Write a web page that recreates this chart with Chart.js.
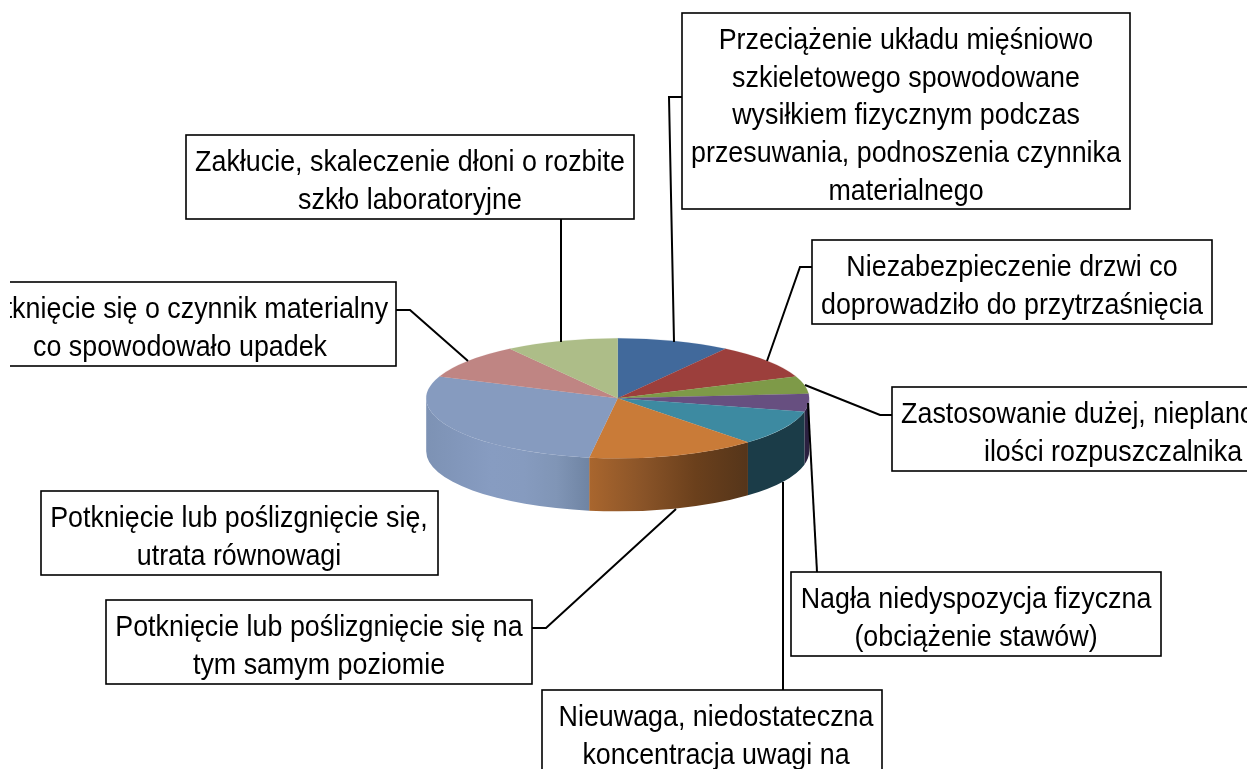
<!DOCTYPE html>
<html lang="pl"><head><meta charset="utf-8">
<style>html,body{margin:0;padding:0;background:#fff;overflow:hidden}canvas{display:block}</style>
<script src="https://cdn.jsdelivr.net/npm/chart.js@4/dist/chart.umd.min.js"></script>
</head><body><canvas id="c" width="1251" height="769"></canvas>
<script>
const categories = [
  "Przeciążenie układu mięśniowo szkieletowego spowodowane wysiłkiem fizycznym podczas przesuwania, podnoszenia czynnika materialnego",
  "Niezabezpieczenie drzwi co doprowadziło do przytrzaśnięcia",
  "Zastosowanie dużej, nieplanowanej ilości rozpuszczalnika",
  "Nagła niedyspozycja fizyczna (obciążenie stawów)",
  "Nieuwaga, niedostateczna koncentracja uwagi na",
  "Potknięcie lub poślizgnięcie się na tym samym poziomie",
  "Potknięcie lub poślizgnięcie się, utrata równowagi",
  "Potknięcie się o czynnik materialny co spowodowało upadek",
  "Zakłucie, skaleczenie dłoni o rozbite szkło laboratoryjne"
];
const values = [2, 2, 1, 1, 2, 3, 6, 2, 2];
const topColors = ["#41699b","#9c3f3c","#7e9a48","#674f80","#3d8aa1","#c97b38","#869bbf","#bf8583","#adbd88"];
const wallStops = [
  ["#41699b"],["#9c3f3c"],["#7e9a48"],
  ["#2b2040"],["#1b3c48"],
  ["#a9662e","#8a5428","#6b401c","#55351a"],
  ["#7d92b4","#8297bb","#879cc1","#869bbf","#8095b6","#6f84a3"],
  ["#bf8583"],["#adbd88"]
];
const labelLines = [
  ["Przeciążenie układu mięśniowo","szkieletowego spowodowane","wysiłkiem fizycznym podczas","przesuwania, podnoszenia czynnika","materialnego"],
  ["Niezabezpieczenie drzwi co","doprowadziło do przytrzaśnięcia"],
  ["Zastosowanie dużej, nieplanowanej","ilości rozpuszczalnika"],
  ["Nagła niedyspozycja fizyczna","(obciążenie stawów)"],
  ["Nieuwaga, niedostateczna","koncentracja uwagi na"],
  ["Potknięcie lub poślizgnięcie się na","tym samym poziomie"],
  ["Potknięcie lub poślizgnięcie się,","utrata równowagi"],
  ["Potknięcie się o czynnik materialny","co spowodowało upadek"],
  ["Zakłucie, skaleczenie dłoni o rozbite","szkło laboratoryjne"]
];
// layout only: label boxes [x, y, w, h, textCentreX]
const boxes = [
  [682,13,448,196,906],[812,240,400,84,1012],[892,387,420,84,1113],
  [791,572,370,84,976],[542,690,340,120,716],[106,600,426,84,319],
  [41,491,397,84,239],[-70,282,466,84,180],[186,135,448,84,410]
];
const leaders = [
  [[682,97],[669,97],[674,342]],[[812,267],[800,267],[767,361]],[[892,415],[880,415],[805,385]],
  [[817,572],[808,403]],[[783,690],[783,482]],[[532,628],[546,628],[676,509]],
  null,[[396,310],[410,310],[468,361]],[[561,219],[561,342]]
];
const ELL = {cx:617.7, cy:398.3, rx:191.5, ry:60, depth:53};
const FONT = '30px "Liberation Sans", Arial, sans-serif', TEXT_SX = 0.895, LINE_H = 37.7;

const pie3d = {
  id:'pie3d',
  beforeDatasetsDraw(chart){
    const ctx = chart.ctx, arcs = chart.getDatasetMeta(0).data;
    const {cx,cy,rx,ry,depth} = ELL;
    ctx.save();
    arcs.forEach((a,i)=>{
      const s = Math.max(a.startAngle,0), e = Math.min(a.endAngle,Math.PI);
      if (e <= s) return;
      const x0 = cx+rx*Math.cos(s), x1 = cx+rx*Math.cos(e);
      const stops = wallStops[i];
      let fill = stops[0];
      if (stops.length>1){
        fill = ctx.createLinearGradient(Math.min(x0,x1),0,Math.max(x0,x1),0);
        stops.forEach((c,k)=>fill.addColorStop(k/(stops.length-1),c));
      }
      ctx.beginPath();
      ctx.ellipse(cx,cy,rx,ry,0,s,e,false);
      ctx.ellipse(cx,cy+depth,rx,ry,0,e,s,true);
      ctx.closePath();
      ctx.fillStyle = fill; ctx.fill();
    });
    ctx.restore();
    const r = arcs[0].outerRadius;
    ctx.save();
    ctx.translate(cx,cy);
    ctx.scale(rx/r,ry/r);
    ctx.translate(-arcs[0].x,-arcs[0].y);
  },
  afterDatasetsDraw(chart){
    const ctx = chart.ctx;
    ctx.restore();
    ctx.save();
    ctx.beginPath(); ctx.rect(10,0,1237,769); ctx.clip();
    ctx.strokeStyle='#000'; ctx.lineWidth=2; ctx.lineJoin='miter';
    leaders.forEach(l=>{
      if(!l) return;
      ctx.beginPath();
      l.forEach((p,i)=> i?ctx.lineTo(p[0],p[1]):ctx.moveTo(p[0],p[1]));
      ctx.stroke();
    });
    ctx.font=FONT; ctx.textAlign='center'; ctx.textBaseline='alphabetic';
    labelLines.forEach((lines,i)=>{
      const [x,y,w,h,tx]=boxes[i];
      ctx.fillStyle='#fff'; ctx.fillRect(x,y,w,h);
      ctx.strokeStyle='#000'; ctx.lineWidth=1.6; ctx.strokeRect(x,y,w,h);
      ctx.fillStyle='#000';
      lines.forEach((t,k)=>{
        ctx.save();
        ctx.translate(tx,y+36+k*LINE_H);
        ctx.scale(TEXT_SX,1);
        ctx.fillText(t,0,0);
        ctx.restore();
      });
    });
    ctx.restore();
  }
};

new Chart(document.getElementById('c'),{
  type:'pie',
  data:{labels:categories,datasets:[{data:values,backgroundColor:topColors,borderColor:topColors,borderWidth:0.5,clip:false}]},
  options:{responsive:false,animation:false,rotation:0,
    layout:{padding:0},
    plugins:{legend:{display:false},tooltip:{enabled:false},title:{display:false}}},
  plugins:[pie3d]
});
</script></body></html>
